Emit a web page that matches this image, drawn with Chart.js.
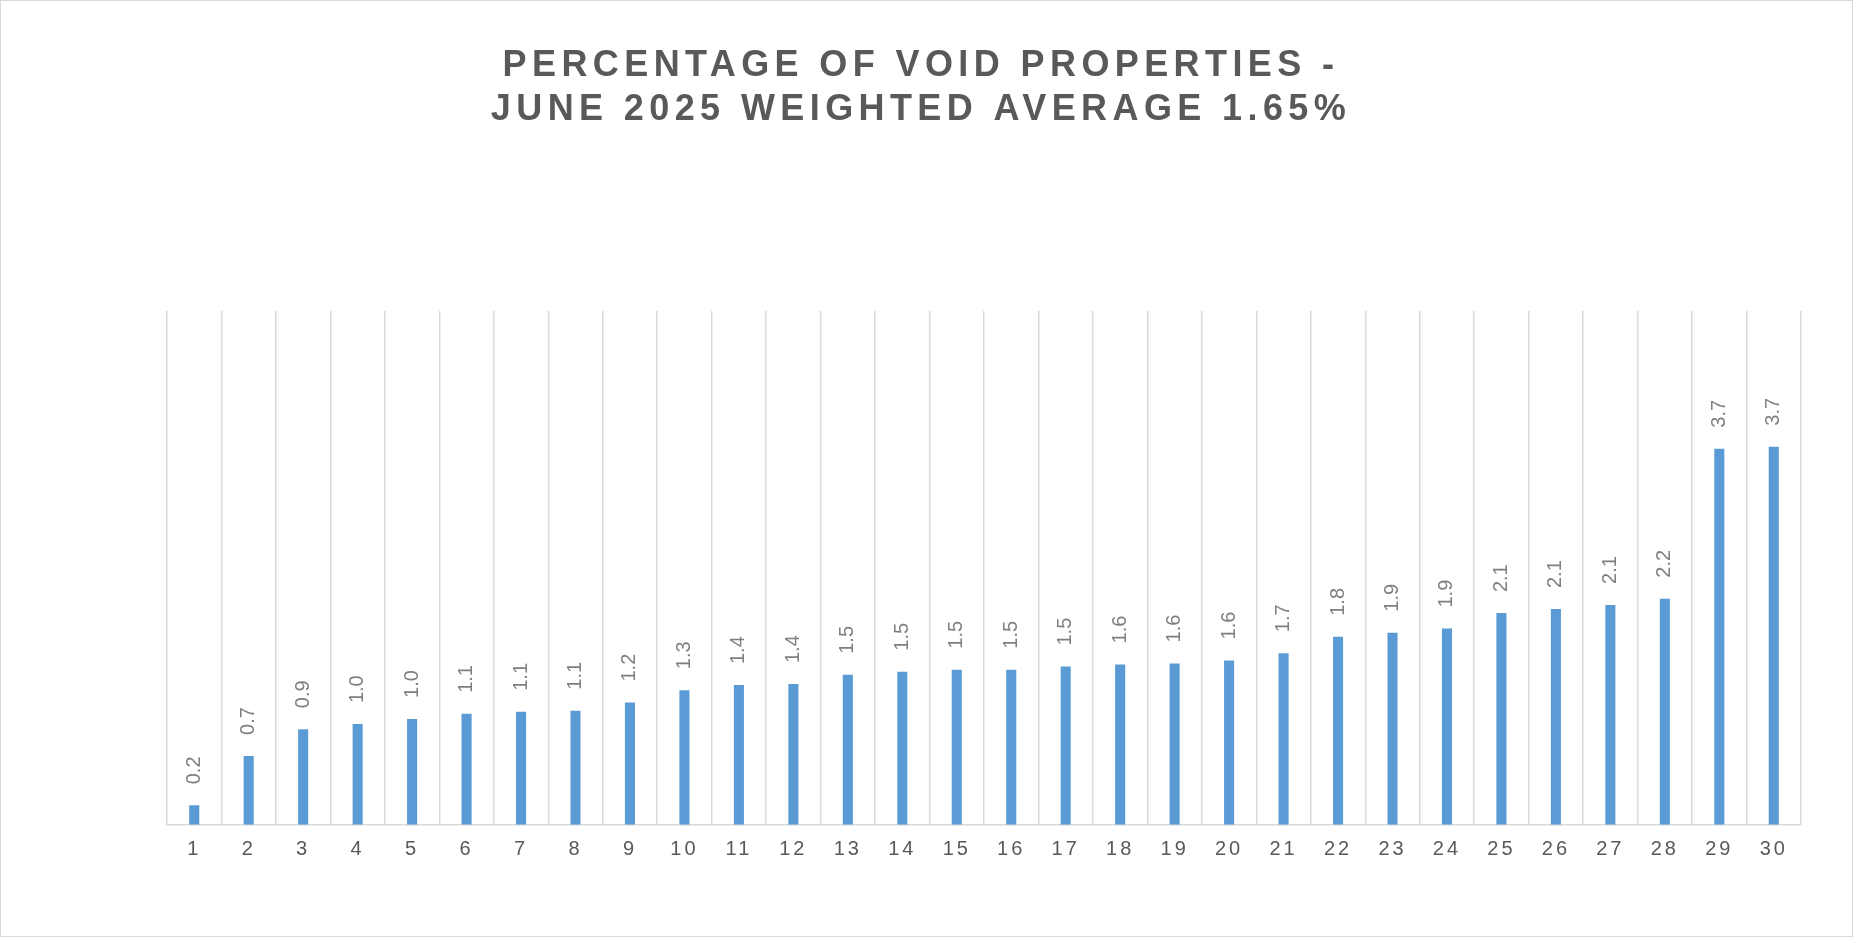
<!DOCTYPE html>
<html>
<head>
<meta charset="utf-8">
<script src="https://cdn.jsdelivr.net/npm/chart.js@4"></script>
<style>
  body { margin: 0; background: #fff; }
  #frame {
    width: 1853px;
    height: 937px;
    box-sizing: border-box;
    border: 1px solid #d9d9d9;
    position: relative;
  }
</style>
</head>
<body>
<div id="frame">
  <canvas id="voidChart" width="1851" height="935"></canvas>
</div>
<script>
// 📦 DATA
const categories = ["1", "2", "3", "4", "5", "6", "7", "8", "9", "10",
  "11", "12", "13", "14", "15", "16", "17", "18", "19", "20",
  "21", "22", "23", "24", "25", "26", "27", "28", "29", "30"];

const voidPct = [0.19, 0.67, 0.93, 0.98, 1.03, 1.08, 1.10, 1.11, 1.19, 1.31,
  1.36, 1.37, 1.46, 1.49, 1.51, 1.51, 1.54, 1.56, 1.57, 1.60,
  1.67, 1.83, 1.87, 1.91, 2.06, 2.10, 2.14, 2.20, 3.66, 3.68];

const titleLines = ["PERCENTAGE OF VOID PROPERTIES -", "JUNE 2025 WEIGHTED AVERAGE 1.65%"];

const yMin = 0;
const yMax = 5;

// 🔤 letter spacing (title, then value labels, then x ticks)
const spacingPlugin = {
  id: "spacing",
  beforeDraw(chart) {
    chart.ctx.letterSpacing = "5.4px";
  },
  beforeDatasetsDraw(chart) {
    chart.ctx.letterSpacing = "0px";
  },
  afterDatasetsDraw(chart) {
    const ctx = chart.ctx;
    const meta = chart.getDatasetMeta(0);

    ctx.save();
    ctx.font = "20px 'Liberation Sans', Arial, sans-serif";
    ctx.fillStyle = "#7f7f7f";
    ctx.textAlign = "left";
    ctx.textBaseline = "middle";

    meta.data.forEach((bar, i) => {
      ctx.save();
      ctx.translate(bar.x, bar.y - 21);
      ctx.rotate(-Math.PI / 2);
      ctx.fillText(voidPct[i].toFixed(1), 0, 0);
      ctx.restore();
    });
    ctx.restore();

    ctx.letterSpacing = "3px";
  },
  afterDraw(chart) {
    chart.ctx.letterSpacing = "0px";
  }
};

const ctx = document.getElementById("voidChart").getContext("2d");

new Chart(ctx, {
  type: "bar",
  data: {
    labels: categories,
    datasets: [{
      data: voidPct,
      backgroundColor: "#5b9bd5",
      borderWidth: 0,
      categoryPercentage: 1,
      barPercentage: 0.185
    }]
  },
  options: {
    responsive: false,
    animation: false,
    layout: {
      padding: { top: 0, left: 0, right: 11, bottom: 62 }
    },
    plugins: {
      legend: { display: false },
      tooltip: { enabled: false },
      title: {
        display: true,
        text: titleLines,
        color: "#595959",
        font: { family: "'Liberation Sans', Arial, sans-serif", size: 36, weight: "bold", lineHeight: 1.214 },
        padding: { top: 43.6, bottom: 179 }
      }
    },
    scales: {
      x: {
        grid: {
          display: true,
          offset: true,
          color: "#d9d9d9",
          lineWidth: 1.5,
          drawTicks: false
        },
        border: { display: true, color: "#d9d9d9", width: 1.5 },
        ticks: {
          z: 1,
          color: "#595959",
          padding: 12.6,
          font: { family: "'Liberation Sans', Arial, sans-serif", size: 20 },
          maxRotation: 0,
          autoSkip: false
        }
      },
      y: {
        min: yMin,
        max: yMax,
        grid: { display: false, drawTicks: false },
        border: { display: false },
        ticks: { display: false },
        afterFit(scale) { scale.width = 166; }
      },
      yr: {
        position: "right",
        type: "linear",
        grid: { display: false, drawTicks: false },
        border: { display: false },
        ticks: { display: false },
        afterFit(scale) { scale.width = 40; }
      }
    }
  },
  plugins: [spacingPlugin]
});
</script>
</body>
</html>
